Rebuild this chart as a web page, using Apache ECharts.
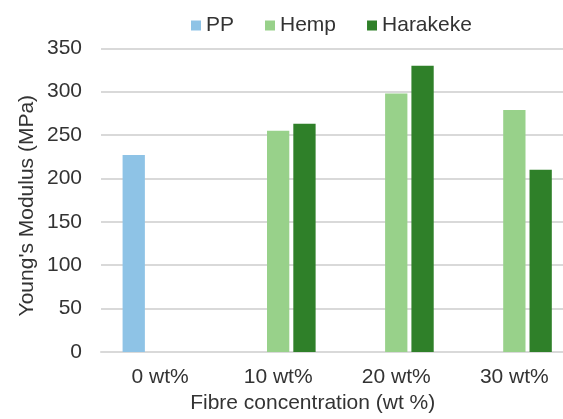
<!DOCTYPE html>
<html>
<head>
<meta charset="utf-8">
<script src="https://cdn.jsdelivr.net/npm/echarts@6/dist/echarts.min.js"></script>
<style>
  html, body { margin: 0; padding: 0; background: #ffffff; overflow: hidden; }
  #chart { width: 580px; height: 419px; }
</style>
</head>
<body>
<div id="chart"></div>
<script>
// Fibre concentrations on the category axis
const categories = ['0 wt%', '10 wt%', '20 wt%', '30 wt%'];

// Young's modulus (MPa) per material; null where the material is absent
const ppValues = [227, null, null, null];
const hempValues = [null, 255, 298, 279];
const harakekeValues = [null, 263, 330, 210];

// Value axis ticks
const yTicks = [0, 50, 100, 150, 200, 250, 300, 350];

const FONT = "'Liberation Sans', Arial, sans-serif";
const TEXT = '#333333';
const FS = 21;

const chart = echarts.init(document.getElementById('chart'), null, { renderer: 'canvas' });

chart.setOption({
  animation: false,
  backgroundColor: '#ffffff',
  textStyle: { fontFamily: FONT },
  legend: {
    left: 191,
    top: 15,
    padding: 0,
    icon: 'rect',
    itemWidth: 10,
    itemHeight: 10,
    itemGap: 31,
    textStyle: { fontFamily: FONT, fontSize: FS, color: TEXT },
    data: ['PP', 'Hemp', 'Harakeke']
  },
  grid: {
    left: 101,
    top: 48.3,
    width: 472.4,
    height: 305.4,
    containLabel: false
  },
  xAxis: {
    type: 'category',
    data: categories,
    name: 'Fibre concentration (wt %)',
    nameLocation: 'middle',
    nameGap: 41,
    nameMoveOverlap: false,
    nameTextStyle: { fontFamily: FONT, fontSize: FS, color: TEXT, padding: [0, 49, 0, 0] },
    axisLine: { show: true, lineStyle: { color: '#D9D9D9', width: 2 } },
    axisTick: { show: false },
    axisLabel: { fontFamily: FONT, fontSize: FS, color: TEXT, margin: 15 }
  },
  yAxis: {
    type: 'value',
    min: yTicks[0],
    max: yTicks[yTicks.length - 1],
    interval: yTicks[1] - yTicks[0],
    name: "Young's Modulus (MPa)",
    nameLocation: 'middle',
    nameGap: 63,
    nameMoveOverlap: false,
    nameRotate: 90,
    nameTextStyle: { fontFamily: FONT, fontSize: FS, color: TEXT, padding: [0, 11, 0, 0] },
    axisLine: { show: false },
    axisTick: { show: false },
    axisLabel: { fontFamily: FONT, fontSize: FS, color: TEXT, margin: 19 },
    splitLine: { show: true, lineStyle: { color: '#D9D9D9', width: 2 } }
  },
  series: [
    {
      name: 'PP',
      type: 'bar',
      data: ppValues,
      barWidth: 22.3,
      barGap: '18%',
      itemStyle: { color: '#8EC3E6' }
    },
    {
      name: 'Hemp',
      type: 'bar',
      data: hempValues,
      barWidth: 22.3,
      barGap: '18%',
      itemStyle: { color: '#98D18A' }
    },
    {
      name: 'Harakeke',
      type: 'bar',
      data: harakekeValues,
      barWidth: 22.3,
      barGap: '18%',
      itemStyle: { color: '#2F8029' }
    }
  ]
});
</script>
</body>
</html>
